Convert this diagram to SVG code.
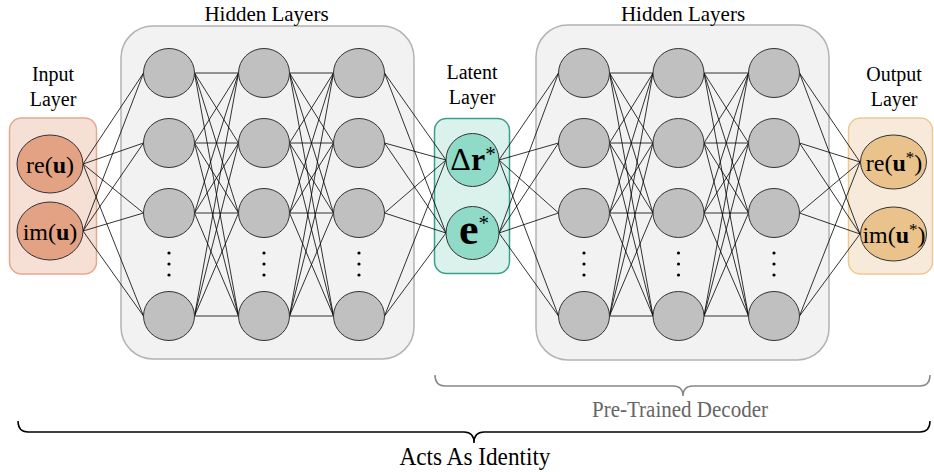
<svg xmlns="http://www.w3.org/2000/svg" width="934" height="472" viewBox="0 0 934 472">
<style>
text{font-family:'Liberation Serif','DejaVu Serif',serif;fill:#000}
.lbl{font-size:20px;text-anchor:middle}
.hl{font-size:21px;text-anchor:middle}
.hbox{fill:#f2f2f2;stroke:#b3b3b3;stroke-width:1.5}
.hn{fill:#c0c0c0;stroke:#333;stroke-width:1}
.dot{fill:#000}
.edge{fill:none;stroke:#000;stroke-width:0.8}
.nl{font-size:24px;text-anchor:middle}
.b{font-weight:bold}
</style>
<rect width="934" height="472" fill="#fff"/>

<!-- hidden layer containers -->
<g id="hidden-enc">
<rect class="hbox" x="121" y="26" width="293" height="333" rx="32"/>
<text class="hl" x="266.5" y="21">Hidden Layers</text>
</g>
<g id="hidden-dec">
<rect class="hbox" x="536" y="25" width="293" height="335" rx="32"/>
<text class="hl" x="683" y="21">Hidden Layers</text>
</g>

<!-- input / latent / output containers -->
<g id="input-layer">
<rect x="9.5" y="118" width="87" height="156" rx="12" fill="#f6e0d5" stroke="#e3a98c" stroke-width="1.5"/>
<text class="lbl" x="53" y="81">Input</text>
<text class="lbl" x="53" y="106">Layer</text>
</g>
<g id="latent-layer">
<rect x="434.5" y="118.5" width="75" height="155" rx="12" fill="#dbf2ec" stroke="#3a9e8a" stroke-width="1.5"/>
<text class="lbl" x="472" y="79">Latent</text>
<text class="lbl" x="472" y="104">Layer</text>
</g>
<g id="output-layer">
<rect x="848.5" y="118" width="84" height="156" rx="12" fill="#f7eada" stroke="#efc98f" stroke-width="1.5"/>
<text class="lbl" x="894" y="81">Output</text>
<text class="lbl" x="894" y="106">Layer</text>
</g>

<!-- connectors -->
<g id="connectors" class="edge">
<path d="M83 164L143.5 73M83 164L143.5 143M83 164L143.5 213M83 164L143.5 316M83 231L143.5 73M83 231L143.5 143M83 231L143.5 213M83 231L143.5 316"/>
<path d="M194.5 73L238.5 73M194.5 73L238.5 143M194.5 73L238.5 213M194.5 73L238.5 316M194.5 143L238.5 73M194.5 143L238.5 143M194.5 143L238.5 213M194.5 143L238.5 316M194.5 213L238.5 73M194.5 213L238.5 143M194.5 213L238.5 213M194.5 213L238.5 316M194.5 316L238.5 73M194.5 316L238.5 143M194.5 316L238.5 213M194.5 316L238.5 316"/>
<path d="M289.5 73L333.5 73M289.5 73L333.5 143M289.5 73L333.5 213M289.5 73L333.5 316M289.5 143L333.5 73M289.5 143L333.5 143M289.5 143L333.5 213M289.5 143L333.5 316M289.5 213L333.5 73M289.5 213L333.5 143M289.5 213L333.5 213M289.5 213L333.5 316M289.5 316L333.5 73M289.5 316L333.5 143M289.5 316L333.5 213M289.5 316L333.5 316"/>
<path d="M384.5 73L446 160M384.5 143L446 160M384.5 213L446 160M384.5 316L446 160M384.5 73L446 233M384.5 143L446 233M384.5 213L446 233M384.5 316L446 233"/>
<path d="M499 160L558.5 73M499 160L558.5 143M499 160L558.5 213M499 160L558.5 316M499 233L558.5 73M499 233L558.5 143M499 233L558.5 213M499 233L558.5 316"/>
<path d="M609.5 73L653 73M609.5 73L653 143M609.5 73L653 213M609.5 73L653 316M609.5 143L653 73M609.5 143L653 143M609.5 143L653 213M609.5 143L653 316M609.5 213L653 73M609.5 213L653 143M609.5 213L653 213M609.5 213L653 316M609.5 316L653 73M609.5 316L653 143M609.5 316L653 213M609.5 316L653 316"/>
<path d="M704 73L748.5 73M704 73L748.5 143M704 73L748.5 213M704 73L748.5 316M704 143L748.5 73M704 143L748.5 143M704 143L748.5 213M704 143L748.5 316M704 213L748.5 73M704 213L748.5 143M704 213L748.5 213M704 213L748.5 316M704 316L748.5 73M704 316L748.5 143M704 316L748.5 213M704 316L748.5 316"/>
<path d="M799.5 73L860 162M799.5 143L860 162M799.5 213L860 162M799.5 316L860 162M799.5 73L860 234M799.5 143L860 234M799.5 213L860 234M799.5 316L860 234"/>
</g>

<!-- hidden nodes encoder -->
<g id="enc-col1">
<ellipse class="hn" cx="169" cy="73" rx="25.5" ry="24.5"/>
<ellipse class="hn" cx="169" cy="143" rx="25.5" ry="24.5"/>
<ellipse class="hn" cx="169" cy="213" rx="25.5" ry="24.5"/>
<ellipse class="hn" cx="169" cy="316" rx="25.5" ry="24.5"/>
<circle class="dot" cx="169" cy="253" r="1.6"/><circle class="dot" cx="169" cy="264" r="1.6"/><circle class="dot" cx="169" cy="275" r="1.6"/>
</g>
<g id="enc-col2">
<ellipse class="hn" cx="264" cy="73" rx="25.5" ry="24.5"/>
<ellipse class="hn" cx="264" cy="143" rx="25.5" ry="24.5"/>
<ellipse class="hn" cx="264" cy="213" rx="25.5" ry="24.5"/>
<ellipse class="hn" cx="264" cy="316" rx="25.5" ry="24.5"/>
<circle class="dot" cx="264" cy="253" r="1.6"/><circle class="dot" cx="264" cy="264" r="1.6"/><circle class="dot" cx="264" cy="275" r="1.6"/>
</g>
<g id="enc-col3">
<ellipse class="hn" cx="359" cy="73" rx="25.5" ry="24.5"/>
<ellipse class="hn" cx="359" cy="143" rx="25.5" ry="24.5"/>
<ellipse class="hn" cx="359" cy="213" rx="25.5" ry="24.5"/>
<ellipse class="hn" cx="359" cy="316" rx="25.5" ry="24.5"/>
<circle class="dot" cx="359" cy="253" r="1.6"/><circle class="dot" cx="359" cy="264" r="1.6"/><circle class="dot" cx="359" cy="275" r="1.6"/>
</g>
<!-- hidden nodes decoder -->
<g id="dec-col1">
<ellipse class="hn" cx="584" cy="73" rx="25.5" ry="24.5"/>
<ellipse class="hn" cx="584" cy="143" rx="25.5" ry="24.5"/>
<ellipse class="hn" cx="584" cy="213" rx="25.5" ry="24.5"/>
<ellipse class="hn" cx="584" cy="316" rx="25.5" ry="24.5"/>
<circle class="dot" cx="584" cy="253" r="1.6"/><circle class="dot" cx="584" cy="264" r="1.6"/><circle class="dot" cx="584" cy="275" r="1.6"/>
</g>
<g id="dec-col2">
<ellipse class="hn" cx="678.5" cy="73" rx="25.5" ry="24.5"/>
<ellipse class="hn" cx="678.5" cy="143" rx="25.5" ry="24.5"/>
<ellipse class="hn" cx="678.5" cy="213" rx="25.5" ry="24.5"/>
<ellipse class="hn" cx="678.5" cy="316" rx="25.5" ry="24.5"/>
<circle class="dot" cx="678.5" cy="253" r="1.6"/><circle class="dot" cx="678.5" cy="264" r="1.6"/><circle class="dot" cx="678.5" cy="275" r="1.6"/>
</g>
<g id="dec-col3">
<ellipse class="hn" cx="774" cy="73" rx="25.5" ry="24.5"/>
<ellipse class="hn" cx="774" cy="143" rx="25.5" ry="24.5"/>
<ellipse class="hn" cx="774" cy="213" rx="25.5" ry="24.5"/>
<ellipse class="hn" cx="774" cy="316" rx="25.5" ry="24.5"/>
<circle class="dot" cx="774" cy="253" r="1.6"/><circle class="dot" cx="774" cy="264" r="1.6"/><circle class="dot" cx="774" cy="275" r="1.6"/>
</g>

<!-- input nodes -->
<g id="node-re-u">
<ellipse cx="50" cy="164" rx="33" ry="29" fill="#e2a283" stroke="#333" stroke-width="1"/>
<text class="nl" x="50" y="173">re(<tspan class="b">u</tspan>)</text>
</g>
<g id="node-im-u">
<ellipse cx="50" cy="231" rx="33" ry="29" fill="#e2a283" stroke="#333" stroke-width="1"/>
<text class="nl" x="50" y="240">im(<tspan class="b">u</tspan>)</text>
</g>
<!-- latent nodes -->
<g id="node-dr">
<circle cx="472.5" cy="160" r="26.5" fill="#90dac8" stroke="#333" stroke-width="1"/>
<text x="473" y="170" font-size="32" text-anchor="middle">Δ<tspan class="b">r</tspan><tspan font-size="21" dy="-9">*</tspan></text>
</g>
<g id="node-e">
<circle cx="472.5" cy="233" r="26.5" fill="#90dac8" stroke="#333" stroke-width="1"/>
<text x="474" y="244" font-size="44" text-anchor="middle"><tspan class="b">e</tspan><tspan font-size="21" dy="-14">*</tspan></text>
</g>
<!-- output nodes -->
<g id="node-re-u-star">
<ellipse cx="893.5" cy="162" rx="33" ry="27" fill="#e9c38b" stroke="#333" stroke-width="1"/>
<text class="nl" x="894" y="171">re(<tspan class="b">u</tspan><tspan font-size="17" dy="-8">*</tspan><tspan dy="8">)</tspan></text>
</g>
<g id="node-im-u-star">
<ellipse cx="893.5" cy="234" rx="33" ry="27" fill="#e9c38b" stroke="#333" stroke-width="1"/>
<text class="nl" x="894" y="243">im(<tspan class="b">u</tspan><tspan font-size="17" dy="-8">*</tspan><tspan dy="8">)</tspan></text>
</g>

<!-- braces -->
<g id="brace-decoder">
<path d="M435 375Q435 386 445 386L673 386Q683 386 683 396Q683 386 693 386L920 386Q930 386 930 375" fill="none" stroke="#888" stroke-width="1.5"/>
<text x="680" y="417" font-size="24" text-anchor="middle" textLength="176" lengthAdjust="spacingAndGlyphs" style="fill:#666">Pre-Trained Decoder</text>
</g>
<g id="brace-identity">
<path d="M18 421Q18 432 28 432L464 432Q474 432 474 443Q474 432 484 432L920 432Q930 432 930 421" fill="none" stroke="#000" stroke-width="1.5"/>
<text x="475" y="465" font-size="25" text-anchor="middle" textLength="151" lengthAdjust="spacingAndGlyphs">Acts As Identity</text>
</g>
</svg>
